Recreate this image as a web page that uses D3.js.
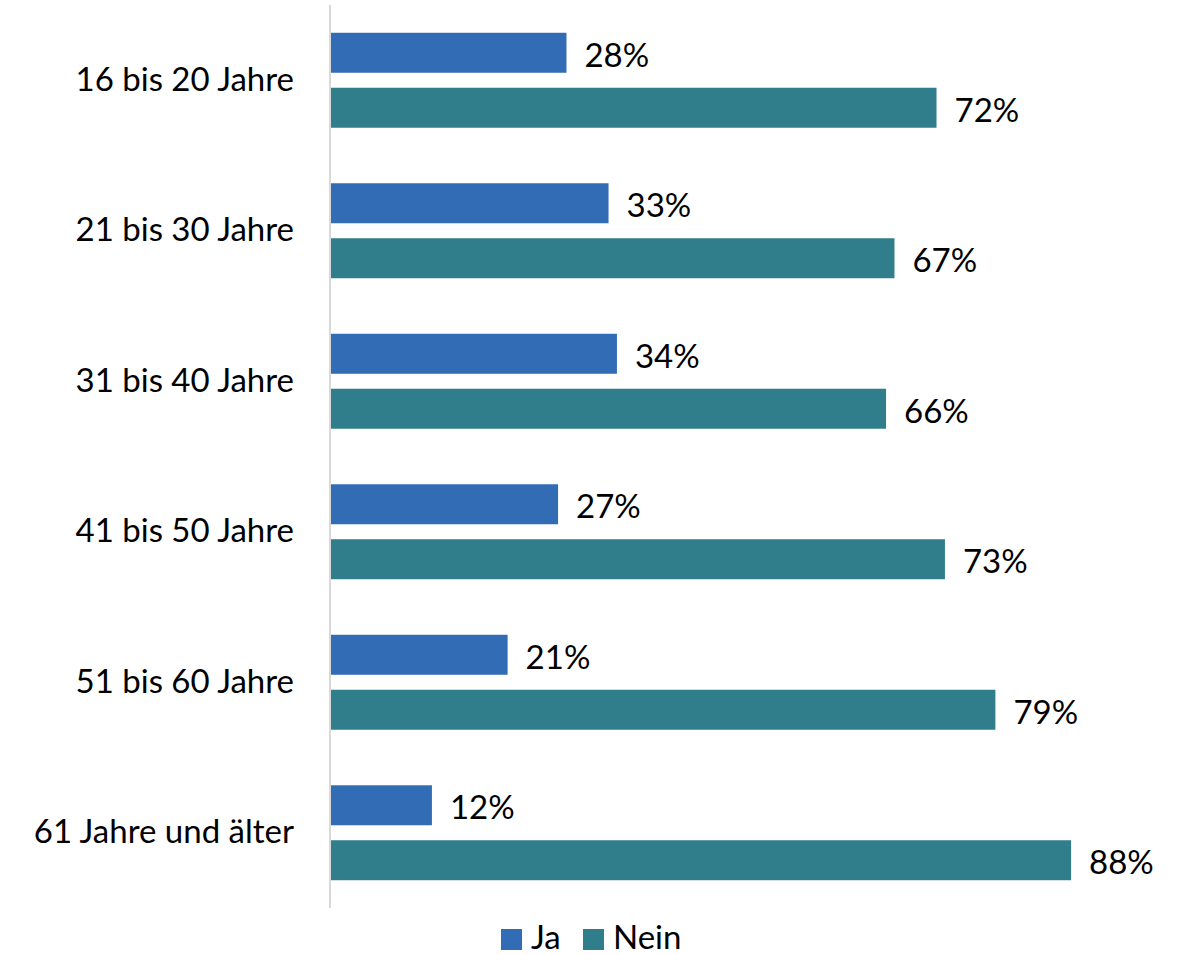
<!DOCTYPE html>
<html>
<head>
<meta charset="utf-8">
<script src="https://cdn.jsdelivr.net/npm/d3@7"></script>
<style>
  html, body { margin: 0; padding: 0; background: #fff; }
  svg { display: block; }
  text { font-family: Lato, "Open Sans", sans-serif; fill: #000; }
</style>
</head>
<body>
<svg id="chart" width="1178" height="955"></svg>
<script>
// Altersgruppen und Antworten (Anteile in %)
const categories = ["16 bis 20 Jahre", "21 bis 30 Jahre", "31 bis 40 Jahre", "41 bis 50 Jahre", "51 bis 60 Jahre", "61 Jahre und älter"];
const seriesNames = ["Ja", "Nein"];
const jaValues = [28, 33, 34, 27, 21, 12];
const neinValues = [72, 67, 66, 73, 79, 88];
const seriesColors = ["#326CB4", "#307D8B"];

const svg = d3.select("#chart");
const fontSize = 33;

const x0 = 331;
const x = d3.scaleLinear().domain([0, 100]).range([x0, x0 + 841]);
const y = d3.scaleBand().domain(categories).range([5, 908])
  .paddingInner(0.369).paddingOuter(0.1845);
const ySub = d3.scaleBand().domain(seriesNames).range([0, y.bandwidth()]).paddingInner(0.2727);
const color = d3.scaleOrdinal().domain(seriesNames).range(seriesColors);

const rows = categories.map((c, i) => ({
  category: c,
  values: [
    { key: "Ja", value: jaValues[i] },
    { key: "Nein", value: neinValues[i] }
  ]
}));

// Gruppen
const groups = svg.append("g").selectAll("g")
  .data(rows).join("g")
  .attr("transform", d => `translate(0,${y(d.category)})`);

groups.selectAll("rect")
  .data(d => d.values).join("rect")
  .attr("x", x(0))
  .attr("y", d => ySub(d.key))
  .attr("width", d => x(d.value) - x(0))
  .attr("height", ySub.bandwidth())
  .attr("fill", d => color(d.key));

// Datenbeschriftungen
groups.selectAll("text.val")
  .data(d => d.values).join("text")
  .attr("class", "val")
  .attr("x", d => x(d.value) + 18)
  .attr("y", d => ySub(d.key) + ySub.bandwidth() / 2 + 1)
  .attr("dominant-baseline", "central")
  .attr("font-size", fontSize)
  .text(d => d.value + "%");

// Kategorienachse
const yAxis = d3.axisLeft(y).tickSize(0).tickPadding(36);
const axisG = svg.append("g")
  .attr("transform", `translate(${x0 - 1},0)`)
  .call(yAxis);
axisG.select(".domain").attr("stroke", "#d9d9d9").attr("stroke-width", 2)
  .attr("d", `M0,5V908`);
axisG.selectAll(".tick text")
  .attr("font-size", fontSize)
  .attr("font-family", "Lato, 'Open Sans', sans-serif")
  .attr("fill", "#000");

// Legende
const legend = svg.append("g").attr("transform", "translate(501,929)");
const legendX = [0, 82];
seriesNames.forEach((s, i) => {
  const g = legend.append("g").attr("transform", `translate(${legendX[i]},0)`);
  g.append("rect").attr("width", 21).attr("height", 21).attr("fill", color(s));
  g.append("text").attr("x", 30).attr("y", 20).attr("font-size", fontSize).text(s);
});
</script>
</body>
</html>
